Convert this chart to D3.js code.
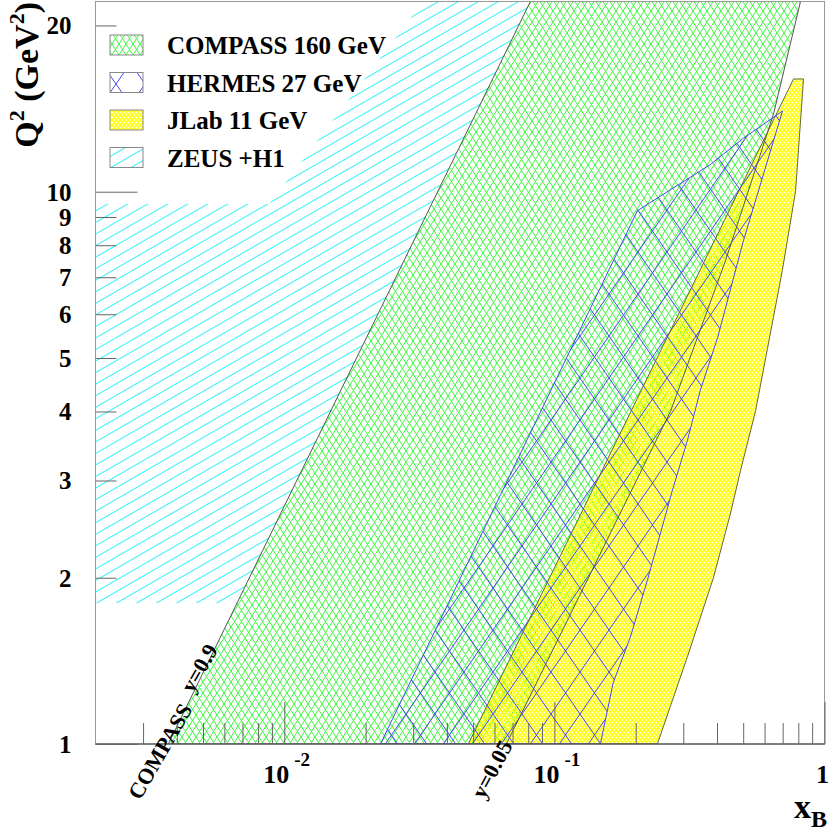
<!DOCTYPE html>
<html lang="en">
<head>
<meta charset="utf-8"/>
<title>DVCS kinematic domains</title>
<script src="https://d3js.org/d3.v7.min.js"></script>
<style>
  body { margin: 0; background: #fff; }
  svg text { font-family: "Liberation Serif", "Times New Roman", serif; font-weight: bold; fill: #000; }
</style>
</head>
<body>
<svg id="chart" width="830" height="828"></svg>
<script>
// corners of each kinematic domain, (x_B, Q^2 in GeV^2)
const compassX  = [0.00372, 0.0815, 0.815, 0.647, 0.43, 0.269, 0.0664];
const compassQ2 = [1, 22.1, 22.1, 13.8, 7.5, 4.0, 1];

const hermesX  = [0.0227, 0.203, 0.378, 0.501, 0.699, 0.501, 0.402, 0.347, 0.311, 0.2735, 0.221, 0.191, 0.165, 0.148];
const hermesQ2 = [1, 9.24, 11.2, 12.5, 14.0, 8.15, 5.44, 4.37, 3.55, 2.88, 1.98, 1.56, 1.29, 1];

const jlabX  = [0.048, 0.768, 0.836, 0.781, 0.698, 0.615, 0.555, 0.489, 0.449, 0.388, 0.311, 0.2406];
const jlabQ2 = [1, 16.0, 16.0, 10.0, 7.2, 5.2, 4.0, 3.13, 2.62, 2.0, 1.44, 1];

const zeusX  = [0.002, 0.0067, 0.0815, 0.0327, 0.0088, 0.002];
const zeusQ2 = [1.8, 1.8, 22.1, 22.1, 9.5, 9.5];

const legendLabels = ["COMPASS 160 GeV", "HERMES 27 GeV", "JLab 11 GeV", "ZEUS +H1"];

const yMajorTicks = [1, 10];
const yMinorTicks = [2, 3, 4, 5, 6, 7, 8, 9, 20];
const xMajorTicks = [0.01, 0.1, 1];
const xMinorTicks = [0.003, 0.004, 0.005, 0.006, 0.007, 0.008, 0.009,
                     0.02, 0.03, 0.04, 0.05, 0.06, 0.07, 0.08, 0.09,
                     0.2, 0.3, 0.4, 0.5, 0.6, 0.7, 0.8, 0.9];

const svg = d3.select("#chart");
const padL = 95.5, padR = 824.5, padT = 1.5, padB = 744;

const x = d3.scaleLog().domain([0.002, 1]).range([padL, padR]);
const y = d3.scaleLog().domain([1, 22.1]).range([padB, padT]);

const defs = svg.append("defs");
defs.append("clipPath").attr("id", "plotClip")
  .append("rect").attr("x", padL).attr("y", padT)
  .attr("width", padR - padL).attr("height", padB - padT);

// crossed hatch -> little diamonds w x h
function diamondPattern(id, w, h, color, sw) {
  const p = defs.append("pattern").attr("id", id)
    .attr("patternUnits", "userSpaceOnUse")
    .attr("width", w).attr("height", h);
  let d = "";
  for (let i = -1; i <= 1; i++) {
    d += `M${i * w},0L${i * w + w},${h}M${i * w + w},0L${i * w},${h}`;
  }
  p.append("path").attr("d", d).attr("fill", "none")
    .attr("stroke", color).attr("stroke-width", sw);
}
diamondPattern("hatchCompass", 7, 11, "#3cf53c", 1);
diamondPattern("hatchHermes", 29, 42, "#4646f0", 1);
diamondPattern("hatchJlab", 4, 5, "#ffff00", 1.4);

const zp = defs.append("pattern").attr("id", "hatchZeus")
  .attr("patternUnits", "userSpaceOnUse")
  .attr("width", 20).attr("height", 10)
  .attr("patternTransform", "rotate(-30)");
zp.append("line").attr("x1", 0).attr("x2", 20).attr("y1", 0.5).attr("y2", 0.5)
  .attr("stroke", "#33f2f2").attr("stroke-width", 1);

const line = d3.line().x(d => x(d[0])).y(d => y(d[1]));
const toPts = (xs, qs) => xs.map((v, i) => [v, qs[i]]);

const regions = [
  { pts: toPts(zeusX, zeusQ2), fill: "url(#hatchZeus)", stroke: "none" },
  { pts: toPts(compassX, compassQ2), fill: "url(#hatchCompass)", stroke: "#555" },
  { pts: toPts(jlabX, jlabQ2), fill: "url(#hatchJlab)", stroke: "#666633" },
  { pts: toPts(hermesX, hermesQ2), fill: "url(#hatchHermes)", stroke: "#4646f0" }
];

const plot = svg.append("g").attr("clip-path", "url(#plotClip)");
regions.forEach(r => {
  plot.append("path").attr("d", line(r.pts) + "Z")
    .attr("fill", r.fill).attr("stroke", "none");
});
regions.forEach(r => {
  if (r.stroke === "none") return;
  plot.append("path").attr("d", line(r.pts) + "Z")
    .attr("fill", "none").attr("stroke", r.stroke).attr("stroke-width", 1);
});

// frame
svg.append("rect").attr("x", padL).attr("y", padT)
  .attr("width", padR - padL).attr("height", padB - padT)
  .attr("fill", "none").attr("stroke", "#999").attr("stroke-width", 1);
svg.append("line").attr("x1", padL).attr("x2", padR + 0.5)
  .attr("y1", padB).attr("y2", padB).attr("stroke", "#333");

function styleAxis(g) {
  g.select(".domain").remove();
  g.selectAll(".tick line").attr("stroke", "#666").attr("stroke-width", 1);
}

// x axis ticks (pointing up into the pad)
svg.append("g").attr("transform", `translate(0,${padB})`)
  .call(d3.axisBottom(x).tickValues(xMinorTicks).tickSize(-21).tickFormat(""))
  .call(styleAxis);
svg.append("g").attr("transform", `translate(0,${padB})`)
  .call(d3.axisBottom(x).tickValues(xMajorTicks).tickSize(-42).tickFormat(""))
  .call(styleAxis);

// y axis ticks and labels
const yMinAx = svg.append("g").attr("transform", `translate(${padL},0)`)
  .call(d3.axisLeft(y).tickValues(yMinorTicks).tickSize(-21).tickPadding(24).tickFormat(d3.format("d")))
  .call(styleAxis);
const yMajAx = svg.append("g").attr("transform", `translate(${padL},0)`)
  .call(d3.axisLeft(y).tickValues(yMajorTicks).tickSize(-42).tickPadding(24).tickFormat(d3.format("d")))
  .call(styleAxis);
[yMinAx, yMajAx].forEach(g => g.selectAll(".tick text")
  .attr("font-size", 25).attr("font-family", "Liberation Serif, serif")
  .attr("font-weight", "bold").attr("fill", "#000").attr("dy", "0.34em"));

// x labels written as powers of ten
xMajorTicks.forEach(v => {
  const e = Math.round(Math.log10(v));
  if (e === 0) {
    svg.append("text").attr("x", x(v) - 2).attr("y", 783)
      .attr("text-anchor", "middle").attr("font-size", 26).text("1");
  } else {
    const t = svg.append("text").attr("x", x(v) - 21).attr("y", 783).attr("font-size", 26);
    t.append("tspan").text("10");
    t.append("tspan").attr("dx", 5).attr("dy", -17).attr("font-size", 19).text(String(e));
  }
});

// axis titles
const yt = svg.append("text").attr("text-anchor", "end")
  .attr("transform", "translate(38,2) rotate(-90)").attr("font-size", 34);
yt.append("tspan").text("Q");
yt.append("tspan").attr("dy", -14).attr("font-size", 22).text("2");
yt.append("tspan").attr("dy", 14).text(" (GeV");
yt.append("tspan").attr("dy", -14).attr("font-size", 22).text("2");
yt.append("tspan").attr("dy", 14).text(")");

const xt = svg.append("text").attr("text-anchor", "end")
  .attr("x", 827).attr("y", 818).attr("font-size", 34);
xt.append("tspan").text("x");
xt.append("tspan").attr("dy", 9).attr("font-size", 24).text("B");

// annotations along the COMPASS limits
svg.append("text").attr("font-size", 22)
  .attr("transform", "translate(140,801) rotate(-60)").text("COMPASS");
svg.append("text").attr("font-size", 22)
  .attr("transform", "translate(193,694) rotate(-60)").text("y=0.9");
svg.append("text").attr("font-size", 22)
  .attr("transform", "translate(484,800) rotate(-62)").text("y=0.05");

// legend
const fills = ["url(#hatchCompass)", "url(#hatchHermes)", "url(#hatchJlab)", "url(#hatchZeus)"];
const legend = svg.append("g");
legendLabels.forEach((lab, i) => {
  const yy = 35 + i * 37.5;
  legend.append("rect").attr("x", 110).attr("y", yy).attr("width", 33).attr("height", 20)
    .attr("fill", fills[i]).attr("stroke", "#888").attr("stroke-width", 1);
  legend.append("text").attr("x", 167).attr("y", yy + 19).attr("font-size", 25).text(lab);
});
</script>
</body>
</html>
